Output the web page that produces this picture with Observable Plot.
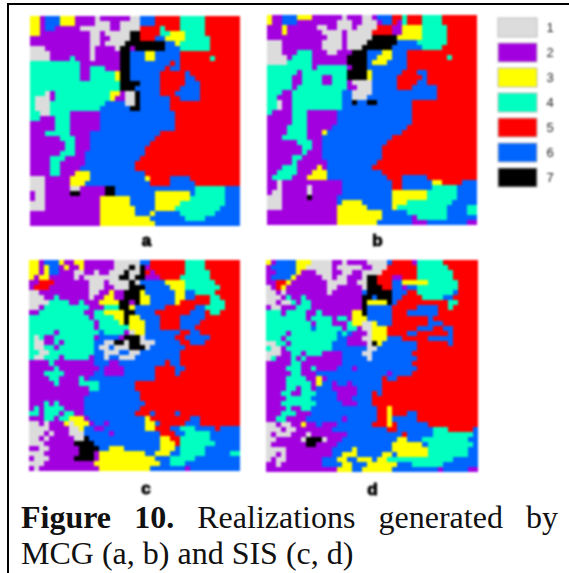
<!DOCTYPE html>
<html><head><meta charset="utf-8">
<script src="https://cdn.jsdelivr.net/npm/d3@7"></script>
<script src="https://cdn.jsdelivr.net/npm/@observablehq/plot@0.6"></script>
<style>
html,body{margin:0;padding:0;background:#fff;width:569px;height:573px;overflow:hidden}
#page{position:relative;width:569px;height:573px}
#frame{position:absolute;left:7px;top:3px;right:0;bottom:0;border-left:2px solid #000;border-top:2px solid #000}
.p{position:absolute}
.p svg{display:block;filter:blur(.8px);background:transparent}
#cap{position:absolute;left:21px;top:499px;width:537px;font:32px/36px "Liberation Serif",serif;color:#111}
#cap div:first-child{text-align:justify;text-align-last:justify}
</style></head><body><div id="page"><div id="frame"></div>
<div id="cap"><div><b>Figure 10.</b> Realizations generated by</div><div>MCG (a, b) and SIS (c, d)</div></div></div>
<script>
const classes=[1,2,3,4,5,6,7];
const colors=["#dcdcdc","#a300e0","#ffff00","#00ffc0","#ff0000","#0064ff","#000000"];
// each row: class@end-column runs
const mapA=`3@2 2@3 6@6 3@9 2@13 1@14 2@20 1@22 6@25 5@30 4@35 5@42
3@2 2@3 6@6 3@9 2@13 1@16 2@18 1@22 6@25 5@30 4@35 5@42
3@2 2@3 6@5 2@10 1@16 2@18 1@22 5@26 4@27 5@30 4@35 5@42
3@2 2@12 1@14 2@15 1@20 7@22 5@26 4@28 3@31 4@35 5@42
2@12 1@14 2@16 1@20 7@22 5@25 6@27 3@31 4@36 5@42
2@12 1@14 2@15 1@19 7@27 6@29 3@30 4@36 5@42
1@3 2@12 1@13 2@17 1@18 7@20 2@21 7@27 6@30 4@36 5@42
1@4 2@12 1@13 2@18 7@20 6@23 3@25 6@30 5@42
1@4 2@8 4@9 2@12 1@13 2@18 7@20 6@23 3@25 6@30 5@36 4@37 5@42
4@10 2@18 7@20 6@28 5@29 6@30 5@42
4@10 2@12 4@15 2@18 7@20 6@27 5@28 6@30 5@42
4@10 2@12 4@17 3@18 7@20 6@26 5@31 6@32 5@42
4@10 2@12 4@17 3@18 7@20 6@26 5@31 6@33 5@42
4@18 7@22 6@26 5@31 6@34 5@42
4@18 7@21 6@26 5@30 6@34 5@42
4@3 1@4 2@5 4@16 3@18 2@19 1@21 7@22 6@26 5@29 6@34 5@42
4@1 1@4 2@5 4@16 3@17 2@19 1@21 7@22 6@28 5@30 6@34 5@42
4@1 1@4 4@15 6@19 1@21 7@22 6@28 5@42
4@1 1@4 4@14 6@20 7@22 6@28 5@42
4@2 1@4 4@8 2@14 6@29 5@42
4@2 2@5 4@8 2@14 6@29 5@42
2@5 4@8 2@14 6@29 5@42
2@5 4@8 2@14 6@29 5@42
2@3 4@8 2@12 6@26 5@42
2@6 4@9 2@12 6@25 5@42
2@7 4@9 2@12 6@24 5@42
2@7 4@9 2@12 6@23 5@42
2@6 4@9 2@11 6@23 5@42
2@4 4@7 2@11 6@22 5@42
2@4 4@6 2@11 6@21 5@42
2@4 4@6 2@10 6@21 5@42
2@4 4@6 2@9 3@12 6@23 5@42
1@3 2@8 3@12 6@23 3@24 5@28 6@32 5@42
1@3 2@8 3@11 6@24 5@28 6@33 5@42
1@3 2@8 1@10 2@15 7@17 6@33 4@39 6@42
2@1 1@3 2@8 7@10 2@15 7@17 6@25 3@32 6@33 4@39 6@42
2@1 1@3 2@14 3@20 6@25 3@32 4@39 6@42
1@3 2@14 3@20 6@25 3@30 4@39 6@42
1@3 2@14 3@21 6@25 3@29 4@38 6@42
2@14 3@21 6@24 3@25 6@30 4@37 6@42
2@14 3@24 6@31 4@35 6@42
2@14 3@25 6@42`;
const mapB=`3@1 2@3 6@6 3@9 2@15 1@16 2@19 1@21 2@22 6@25 5@27 4@28 5@31 4@35 5@42
3@1 2@3 6@6 2@14 1@17 2@19 1@22 2@23 6@25 5@26 2@27 4@28 5@31 4@35 5@42
2@3 3@4 2@10 1@12 2@14 1@17 2@18 1@22 5@25 2@27 3@31 4@36 5@42
2@3 3@4 2@11 1@15 2@16 1@21 5@25 2@27 3@31 4@36 5@42
2@12 1@15 2@16 1@21 7@26 3@31 4@36 5@42
1@3 2@11 1@15 2@16 1@20 7@26 6@30 4@36 5@42
1@3 2@11 1@15 2@16 1@19 7@25 6@31 4@35 5@42
1@3 2@6 4@9 2@12 1@14 2@17 7@20 6@23 3@25 6@28 5@42
1@4 2@5 4@9 2@16 7@20 6@22 3@25 6@28 5@36 4@37 5@42
1@4 4@9 2@16 7@20 6@21 3@24 6@28 5@42
4@9 2@10 4@16 2@17 7@20 6@28 5@42
4@6 2@7 4@16 7@20 3@21 6@27 5@30 6@32 5@42
4@5 2@7 4@11 2@13 4@16 7@20 3@21 6@26 5@31 6@32 5@42
4@5 2@7 4@11 2@13 4@16 2@17 1@21 6@26 5@30 6@32 5@42
4@5 2@6 4@16 2@18 1@21 6@26 5@29 6@34 5@42
4@3 2@5 4@15 6@17 1@21 6@34 5@42
4@2 2@5 4@15 6@17 1@20 6@34 5@42
4@2 1@3 2@5 4@15 6@17 7@18 6@20 7@22 6@29 5@42
4@2 1@3 2@5 4@15 6@29 5@42
4@1 2@5 4@8 2@14 6@29 5@42
2@5 4@8 2@14 6@29 5@42
2@5 4@8 2@14 6@29 5@42
2@4 4@8 2@13 6@28 5@42
2@4 4@8 2@11 3@12 6@27 5@42
2@3 4@8 2@11 6@25 5@42
2@6 4@9 2@11 6@24 5@42
2@7 4@9 2@11 6@23 5@42
2@7 4@8 2@11 6@23 5@42
2@5 4@7 2@11 6@23 5@42
2@5 4@6 2@12 6@22 5@42
2@3 4@6 2@10 3@11 2@12 6@21 5@42
2@2 4@6 2@9 3@12 6@23 5@42
2@1 4@5 2@8 3@12 6@24 5@27 6@32 5@42
2@2 1@3 2@15 6@25 5@27 6@33 3@35 5@39 6@42
2@2 1@3 2@8 1@9 2@15 6@25 5@27 6@33 4@38 6@42
2@1 1@3 2@8 1@9 2@15 6@25 3@32 4@38 6@42
1@3 2@8 7@9 2@14 6@25 3@32 4@38 6@42
1@3 2@14 6@15 3@19 6@25 3@28 4@37 6@42
1@3 2@14 3@20 6@25 3@26 4@36 6@40 4@42
2@14 3@23 6@28 4@36 6@40 4@42
2@14 3@23 6@29 2@30 4@36 6@42
2@14 3@22 6@29 2@32 6@40 2@42`;
const mapC=`3@2 2@3 6@6 3@7 2@9 3@11 2@17 1@22 6@24 5@31 4@35 5@42
3@2 2@3 3@4 6@6 2@7 3@8 2@10 3@11 2@17 1@20 7@21 1@22 7@23 2@24 5@31 4@35 5@42
3@2 2@3 3@4 6@6 2@9 1@11 2@13 1@14 2@16 1@19 7@20 1@22 7@23 5@24 2@25 5@31 4@36 5@42
3@1 2@2 3@4 2@9 1@10 2@11 1@15 1@18 7@20 1@21 7@23 2@26 5@30 4@36 5@42
2@2 5@5 2@12 1@15 2@16 1@20 7@21 1@22 6@27 3@31 4@37 5@42
2@1 5@4 2@12 1@15 2@17 1@20 7@23 6@28 3@31 4@38 5@42
1@2 2@4 2@12 1@14 2@16 3@17 2@19 7@22 3@23 6@29 3@31 6@33 4@37 5@42
1@3 2@5 4@6 2@12 1@13 2@15 3@17 2@19 7@22 3@24 6@29 3@31 6@33 5@36 4@38 5@42
1@4 4@8 2@10 4@11 2@14 3@18 7@20 2@21 7@22 3@24 6@29 3@30 5@36 4@39 5@42
1@2 2@3 4@12 2@15 4@18 7@20 3@21 6@27 5@33 6@35 4@39 5@42
2@2 4@11 2@13 4@15 3@19 7@21 6@25 5@32 6@35 5@36 4@38 5@42
4@12 2@13 4@17 3@19 7@20 3@22 6@26 5@30 6@35 5@42
4@13 2@14 4@18 3@19 7@20 3@23 6@26 5@30 6@34 5@42
4@13 2@14 4@20 3@23 6@26 5@30 6@33 5@42
4@5 2@6 4@14 6@15 4@19 2@20 1@21 3@23 6@30 5@32 6@34 5@42
4@1 1@2 4@3 2@5 4@13 2@14 6@18 2@19 7@22 1@23 6@29 5@31 6@36 5@42
4@1 1@3 2@5 4@6 2@7 4@13 6@15 1@17 7@19 1@20 7@22 1@25 6@30 5@32 6@35 5@42
4@1 1@3 4@5 2@6 4@13 6@14 1@16 6@17 1@20 7@23 1@24 6@31 5@42
4@2 1@4 4@13 6@15 1@18 6@20 1@22 6@30 5@42
4@1 1@3 4@6 2@7 4@12 2@13 6@15 1@16 6@18 1@21 6@30 5@42
2@4 4@5 2@13 6@16 2@18 6@27 5@28 6@30 5@42
2@5 4@6 2@14 6@15 2@19 6@25 5@29 6@31 5@42
2@3 4@7 2@13 6@15 2@19 6@25 5@29 6@30 5@42
2@4 4@6 2@10 4@11 2@12 6@25 5@42
2@5 4@6 2@10 4@14 6@21 5@42
2@12 4@14 6@21 5@42
2@12 6@22 5@42
2@11 6@22 5@42
2@3 4@4 2@5 4@6 2@11 6@23 5@42
2@1 4@2 2@3 4@7 2@11 6@22 5@42
4@2 2@3 4@6 2@7 4@9 2@11 6@21 5@24 6@25 5@29 6@30 5@42
2@3 4@5 2@6 4@8 3@11 2@12 6@23 3@24 5@32 6@34 5@42
1@2 2@3 1@4 2@7 3@8 1@9 3@12 2@13 6@15 2@16 6@23 3@25 6@26 5@31 6@34 5@42
1@4 2@8 1@10 3@11 6@13 2@15 6@23 3@25 5@28 6@30 4@33 6@37 5@38 6@42
1@3 2@4 1@5 2@8 1@11 6@16 2@17 6@26 5@29 6@31 4@36 6@42
1@2 2@3 1@4 2@9 1@11 7@12 6@26 3@28 5@30 4@36 6@42
1@3 2@9 7@13 6@26 3@29 5@30 4@37 6@42
2@2 1@4 2@10 7@14 6@16 3@19 6@26 3@29 6@30 4@35 6@42
1@3 2@10 7@13 2@14 3@23 6@25 3@28 6@30 4@35 6@40 4@42
2@1 1@4 2@9 7@13 2@14 3@25 6@28 4@33 6@42
1@3 2@13 3@26 6@28 4@31 6@42
2@1 1@2 2@14 3@24 6@31 2@32 6@42`;
const mapD=`3@1 2@2 6@6 3@9 1@13 2@15 1@16 2@20 1@24 6@25 5@29 2@30 4@35 5@42
2@1 6@6 3@8 1@13 2@14 1@19 2@21 1@24 5@30 4@36 5@42
2@2 6@6 3@7 2@10 1@13 2@15 1@17 2@19 1@23 5@30 4@37 5@42
2@1 6@5 3@6 2@11 1@13 2@14 1@16 2@19 1@20 7@22 5@25 2@27 5@30 4@37 5@42
2@2 5@4 3@5 2@12 1@16 2@18 1@20 7@22 5@25 6@27 3@32 4@38 5@42
1@1 2@2 5@3 3@4 2@12 1@14 2@19 1@20 7@23 5@25 6@27 2@28 6@30 4@38 5@42
1@2 2@3 1@4 2@12 1@13 2@19 6@20 7@25 6@28 5@30 4@37 6@38 5@42
1@3 2@4 4@5 2@7 4@8 2@19 7@21 6@22 7@25 6@27 5@31 4@35 6@37 5@42
1@2 2@3 1@5 4@6 2@7 4@9 2@19 7@20 3@24 7@25 6@26 5@36 4@38 5@42
2@1 1@3 2@6 4@9 2@19 7@20 6@25 5@30 6@34 5@36 4@37 5@42
4@3 2@4 4@8 2@10 4@11 2@17 3@19 7@20 6@25 5@28 6@34 5@42
4@8 2@9 4@13 2@14 4@16 2@17 3@20 6@25 5@32 6@33 5@42
4@9 2@10 4@13 2@16 4@17 3@19 1@21 3@22 6@25 5@32 6@35 5@42
4@9 6@10 4@15 2@16 4@18 2@19 1@21 3@24 5@30 6@33 5@35 6@37 5@42
4@4 2@5 4@14 6@15 4@16 6@17 2@20 1@21 3@24 5@28 6@30 5@36 6@37 5@42
4@3 2@4 4@14 6@16 2@19 1@21 3@24 6@27 5@32 6@37 5@42
1@2 4@4 2@5 4@13 6@16 2@20 1@21 7@22 3@23 6@30 5@36 6@37 5@42
4@1 1@3 2@4 4@13 6@20 1@22 6@30 5@42
1@3 2@5 4@7 2@8 4@11 2@15 6@19 1@21 6@29 5@42
1@1 4@2 2@5 4@6 2@7 4@8 2@15 6@20 1@21 6@30 5@42
2@5 4@7 2@15 6@29 5@42
2@4 4@7 2@9 4@10 2@14 6@17 2@18 6@30 5@42
2@5 4@7 2@10 6@24 2@25 6@29 5@42
2@4 4@8 2@10 3@11 2@12 6@23 5@24 6@26 5@42
2@4 4@9 2@10 3@11 6@13 2@14 6@16 2@17 6@23 5@42
2@4 4@6 2@7 4@9 2@10 6@13 2@18 6@23 5@42
2@3 4@5 2@7 4@10 6@14 2@18 6@21 5@22 6@23 5@42
2@4 4@9 6@14 2@17 6@21 5@42
2@3 4@10 6@15 2@18 6@21 5@42
2@4 4@5 2@7 4@9 6@22 5@24 3@25 5@42
2@3 4@6 2@9 6@22 5@24 3@25 5@28 6@30 5@42
2@2 4@4 2@8 6@15 2@16 6@22 5@24 3@25 6@30 5@42
1@2 2@3 1@5 2@7 3@8 2@10 6@11 2@14 6@21 5@24 3@25 5@26 6@32 5@42
1@3 2@4 1@6 2@13 6@24 5@26 6@33 4@36 5@41 6@42
1@1 2@2 1@5 2@8 1@9 2@16 6@27 5@28 6@33 4@41 6@42
1@2 2@7 1@8 7@11 1@12 2@15 6@26 3@28 6@31 4@40 6@42
1@1 2@8 7@10 2@14 6@25 3@31 6@32 4@41 6@42
1@4 2@13 6@17 3@18 6@25 3@32 4@40 6@42
1@2 2@3 1@4 2@13 6@15 3@18 6@23 3@25 6@26 3@32 4@40 6@42
1@1 2@2 1@4 2@11 6@14 3@16 6@18 3@21 6@22 3@24 4@37 6@42
2@2 1@3 2@11 6@15 3@17 6@20 3@26 6@29 4@35 6@42
2@14 3@17 6@19 3@25 6@34 2@35 6@40 2@42`;

const panelNames=["a","b","c","d"];
const panelMaps=[mapA,mapB,mapC,mapD];
const labelCols=[23.2,22,23.2,21];
const labelRows=[44.8,45,45.4,45.4];
const panelLeft=[30,267,29,266];
const panelTop=[16,15,260,260];
const panelSize=[210,210,211,212];

function runs(text){
  return text.split("\n").flatMap((line,row)=>{
    let start=0;
    return line.trim().split(/\s+/).map(t=>{
      const [k,end]=t.split("@").map(Number);
      const r={k,row,x1:start,x2:end,y1:row,y2:row+1};
      start=end;return r;
    });
  });
}
const page=document.getElementById("page");
function place(svg,left,top){
  const d=document.createElement("div");d.className="p";
  d.style.left=left+"px";d.style.top=top+"px";d.appendChild(svg);page.appendChild(d);
}
panelNames.forEach((name,i)=>{
  const s=panelSize[i];
  place(Plot.plot({
    width:s,height:s+34,margin:0,marginBottom:34,
    x:{axis:null,domain:[0,42]},
    y:{axis:null,domain:[0,42],reverse:true},
    color:{domain:classes,range:colors},
    style:{background:"transparent",overflow:"visible"},
    marks:[
      Plot.rect(runs(panelMaps[i]),{x1:"x1",x2:"x2",y1:"y1",y2:"y2",fill:"k",inset:0,shapeRendering:"crispEdges"}),
      Plot.text([name],{x:()=>labelCols[i],y:()=>labelRows[i],text:d=>d,fontFamily:"Liberation Sans",fontWeight:"bold",fontSize:17,fill:"#000",stroke:"#000",strokeWidth:1})
    ]
  }),panelLeft[i],panelTop[i]);
});
place(Plot.plot({
  width:62,height:177,margin:0,marginRight:23,
  x:{axis:null,domain:[0,1]},
  y:{axis:null,domain:classes,padding:.24,paddingOuter:.12},
  color:{domain:classes,range:colors},
  style:{background:"transparent",overflow:"visible"},
  marks:[
    Plot.barX(classes,{x1:()=>0,x2:()=>1,y:d=>d,fill:d=>d,stroke:"#bdbdbd",strokeWidth:1}),
    Plot.text(classes,{x:()=>1,y:d=>d,text:d=>String(d),dx:9,textAnchor:"start",fontFamily:"Liberation Sans",fontSize:13,fill:"#222"})
  ]
}),498,14);
</script></body></html>
